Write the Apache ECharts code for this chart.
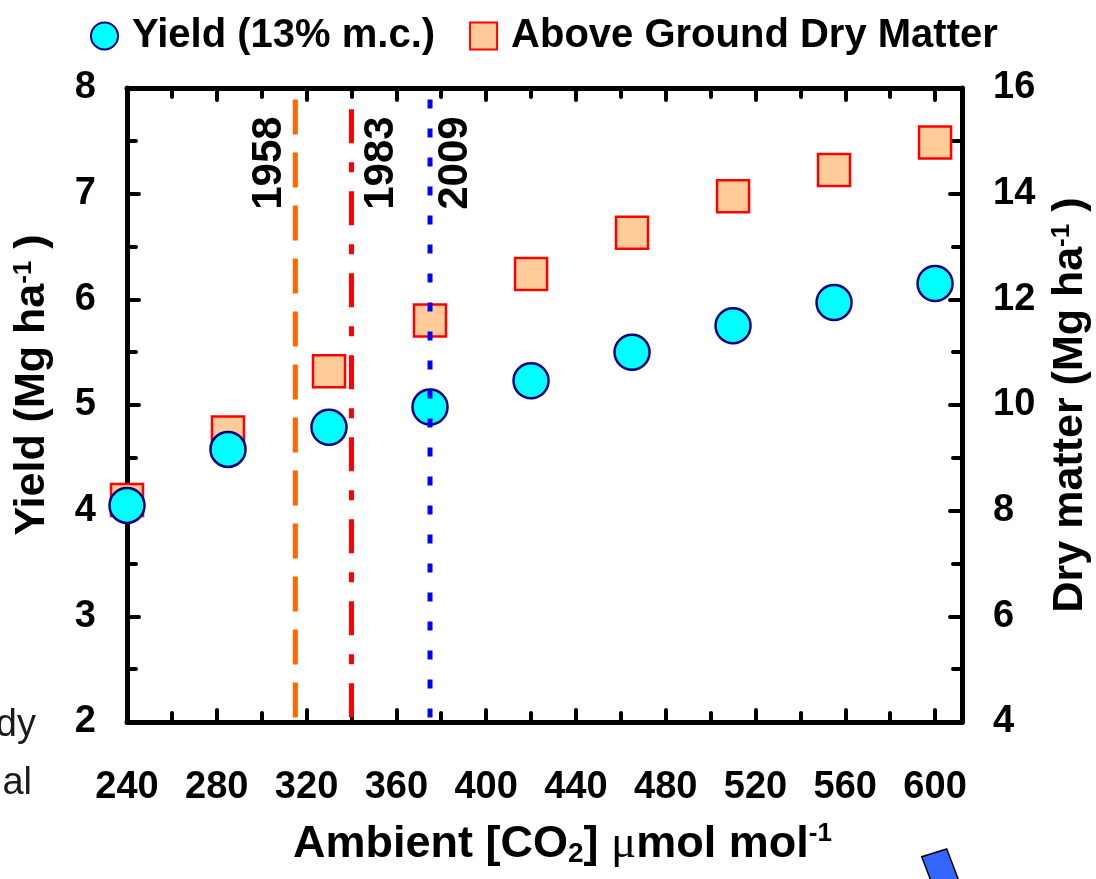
<!DOCTYPE html>
<html>
<head>
<meta charset="utf-8">
<script src="https://cdn.jsdelivr.net/npm/echarts@6/dist/echarts.min.js"></script>
<style>
  html, body { margin: 0; padding: 0; background: #ffffff; }
  #chart { width: 1096px; height: 879px; }
</style>
</head>
<body>
<div id="chart"></div>
<script>
// CO2 levels (µmol/mol) of the simulated scenarios
const co2 = [240, 285, 330, 375, 420, 465, 510, 555, 600];
// Grain yield at 13% moisture content (Mg/ha)
const yieldValues = [4.05, 4.58, 4.79, 4.98, 5.23, 5.50, 5.75, 5.97, 6.15];
// Above ground dry matter (Mg/ha)
const dryMatterValues = [8.2, 9.48, 10.64, 11.6, 12.48, 13.26, 13.95, 14.45, 14.97];

// Axis ticks
const xMajorTicks = [240, 280, 320, 360, 400, 440, 480, 520, 560, 600];
const xMinorTicks = [260, 300, 340, 380, 420, 460, 500, 540, 580];
const yieldTicks = [2, 3, 4, 5, 6, 7, 8];
const dryMatterTicks = [4, 6, 8, 10, 12, 14, 16];

// Historical reference years and their CO2 levels
const years = ['1958', '1983', '2009'];
const yearCO2 = [315, 340, 375];
const yearLineTop = [7.89, 7.8, 7.89];
const yearLabelLevel = 7.29;

const FONT = "'Liberation Sans', Arial, sans-serif";
const X_MIN = 240, X_MAX = 612;

const chart = echarts.init(document.getElementById('chart'), null, { renderer: 'canvas' });

const tickStyle = { color: '#000', width: 4, cap: 'round' };
const labelStyle = { color: '#000', fontFamily: FONT, fontWeight: 'bold', fontSize: 38 };

function xAxisDef(position, ticks, len, withLine, withLabels) {
  return {
    type: 'value', position: position, min: X_MIN, max: X_MAX,
    axisLine: { show: withLine, onZero: false, lineStyle: { color: '#000', width: 5 } },
    axisTick: { show: true, inside: true, length: len, customValues: ticks, lineStyle: tickStyle },
    axisLabel: withLabels
      ? Object.assign({ show: true, margin: 47, customValues: xMajorTicks }, labelStyle)
      : { show: false },
    splitLine: { show: false }
  };
}

const xAxes = [
  xAxisDef('bottom', xMajorTicks, 12, true, true),
  xAxisDef('bottom', xMinorTicks, 9, false, false),
  xAxisDef('top', xMajorTicks, 12, true, false),
  xAxisDef('top', xMinorTicks, 9, false, false)
];
xAxes[0].name = '{b|Ambient [CO}{sub|2}{b|] }{mu|\u03bc}{b|mol mol}{sup|-1}';
xAxes[0].nameLocation = 'middle';
xAxes[0].nameGap = 99;
xAxes[0].nameTextStyle = {
  color: '#000', fontFamily: FONT, fontWeight: 'bold', fontSize: 45,
  padding: [0, 0, 0, 36],
  rich: {
    b: { color: '#000', fontFamily: FONT, fontWeight: 'bold', fontSize: 45 },
    sub: { color: '#000', fontFamily: FONT, fontWeight: 'bold', fontSize: 28, verticalAlign: 'bottom', lineHeight: 14 },
    sup: { color: '#000', fontFamily: FONT, fontWeight: 'bold', fontSize: 26, verticalAlign: 'top', lineHeight: 6 },
    mu: { color: '#000', fontFamily: "'Liberation Serif', serif", fontWeight: 'normal', fontSize: 47 }
  }
};

function yNameStyle(shift) {
  return {
    color: '#000', fontFamily: FONT, fontWeight: 'bold', fontSize: 43,
    padding: [0, 0, 0, shift],
    rich: {
      b: { color: '#000', fontFamily: FONT, fontWeight: 'bold', fontSize: 43 },
      sup: { color: '#000', fontFamily: FONT, fontWeight: 'bold', fontSize: 26, verticalAlign: 'top', lineHeight: 8 }
    }
  };
}

const option = {
  animation: false,
  backgroundColor: '#ffffff',
  grid: { left: 127, right: 134, top: 88, bottom: 157, containLabel: false, outerBoundsMode: 'none' },
  legend: {
    left: 85, top: 11,
    itemWidth: 27, itemHeight: 27, itemGap: 34,
    data: ['Yield (13% m.c.)', 'Above Ground Dry Matter'],
    textStyle: { color: '#000', fontFamily: FONT, fontWeight: 'bold', fontSize: 40, padding: [0, 0, 0, 9] }
  },
  xAxis: xAxes,
  yAxis: [
    {
      type: 'value', position: 'left', min: yieldTicks[0], max: yieldTicks[yieldTicks.length - 1], interval: 1,
      name: '{b|Yield (Mg ha}{sup|-1}{b| )}', nameLocation: 'middle', nameGap: 73, nameTextStyle: yNameStyle(40),
      axisLine: { show: true, lineStyle: { color: '#000', width: 5 } },
      axisTick: { show: true, inside: true, length: 12, lineStyle: tickStyle },
      minorTick: { show: true, splitNumber: 2, length: 9, lineStyle: tickStyle },
      axisLabel: Object.assign({ margin: 31 }, labelStyle),
      splitLine: { show: false }
    },
    {
      type: 'value', position: 'right', min: dryMatterTicks[0], max: dryMatterTicks[dryMatterTicks.length - 1], interval: 2,
      name: '{b|Dry matter (Mg ha}{sup|-1}{b| )}', nameLocation: 'middle', nameGap: 87, nameTextStyle: yNameStyle(0),
      axisLine: { show: true, lineStyle: { color: '#000', width: 5 } },
      axisTick: { show: true, inside: true, length: 12, lineStyle: tickStyle },
      minorTick: { show: true, splitNumber: 2, length: 9, lineStyle: tickStyle },
      axisLabel: Object.assign({ margin: 31 }, labelStyle),
      splitLine: { show: false }
    }
  ],
  series: [
    // Reference years as vertical lines
    {
      name: years[0], type: 'line', xAxisIndex: 0, yAxisIndex: 0, silent: true,
      showSymbol: false, symbol: 'none',
      data: [[yearCO2[0], yearLineTop[0]], [yearCO2[0], yieldTicks[0]]],
      lineStyle: { color: '#ff6600', width: 5, type: [35, 18], cap: 'butt' }
    },
    {
      name: years[1], type: 'line', xAxisIndex: 0, yAxisIndex: 0, silent: true,
      showSymbol: false, symbol: 'none',
      data: [[yearCO2[1], yearLineTop[1]], [yearCO2[1], yieldTicks[0]]],
      lineStyle: { color: '#ff0000', width: 5, type: [34, 19, 10, 19], cap: 'butt' }
    },
    {
      name: years[2], type: 'line', xAxisIndex: 0, yAxisIndex: 0, silent: true,
      showSymbol: false, symbol: 'none',
      data: [[yearCO2[2], yearLineTop[2]], [yearCO2[2], yieldTicks[0]]],
      lineStyle: { color: '#0000ff', width: 5, type: [9, 20], cap: 'butt' }
    },
    {
      name: 'Above Ground Dry Matter', type: 'scatter', xAxisIndex: 0, yAxisIndex: 1,
      symbol: 'rect', symbolSize: 32,
      itemStyle: { color: '#ffcc99', borderColor: '#ff0000', borderWidth: 2.5, opacity: 1 },
      data: co2.map((c, i) => [c, dryMatterValues[i]])
    },
    {
      name: 'Yield (13% m.c.)', type: 'scatter', xAxisIndex: 0, yAxisIndex: 0,
      symbol: 'circle', symbolSize: 35,
      itemStyle: { color: '#00ffff', borderColor: '#000080', borderWidth: 2.5, opacity: 1 },
      data: co2.map((c, i) => [c, yieldValues[i]])
    }
  ]
};

chart.setOption(option);

// Year labels placed next to their lines, using the chart's own scales
const yearOffsets = [-26, 30, 25];
const graphics = years.map((yr, i) => {
  const p = chart.convertToPixel({ xAxisIndex: 0, yAxisIndex: 0 }, [yearCO2[i], yearLabelLevel]);
  return {
    type: 'text', x: p[0] + yearOffsets[i], y: p[1], rotation: Math.PI / 2, z: 10,
    style: { text: yr, font: "bold 42px 'Liberation Sans', Arial, sans-serif", fill: '#000', align: 'center', verticalAlign: 'middle' }
  };
});

// Neighbouring page content at the figure edges
graphics.push(
  { type: 'text', x: 36, y: 707, style: { text: 'dy', font: "38px 'Liberation Sans', Arial, sans-serif", fill: '#1a1a1a', align: 'right', verticalAlign: 'alphabetic' } },
  { type: 'text', x: 32, y: 765, style: { text: 'al', font: "38px 'Liberation Sans', Arial, sans-serif", fill: '#1a1a1a', align: 'right', verticalAlign: 'alphabetic' } },
  { type: 'polygon', shape: { points: [[921.7, 856.7], [946.7, 849], [966.2, 900], [938.3, 900]] }, style: { fill: '#3366ff', stroke: '#000', lineWidth: 1.5 } }
);

chart.setOption({ graphic: graphics });
</script>
</body>
</html>
